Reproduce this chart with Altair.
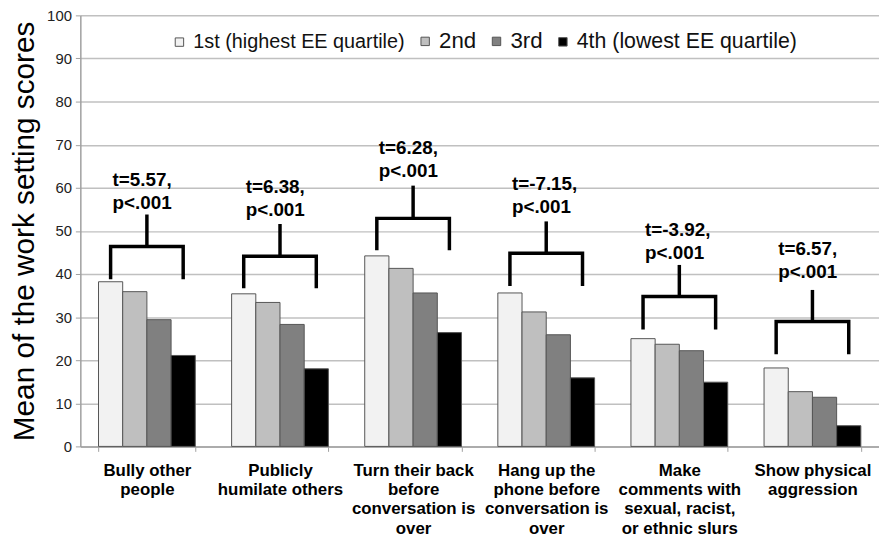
import altair as alt
import pandas as pd

categories = [
    "Bully other\npeople",
    "Publicly\nhumilate others",
    "Turn their  back\nbefore\nconversation is\nover",
    "Hang up the\nphone before\nconversation is\nover",
    "Make\ncomments with\nsexual, racist,\nor ethnic slurs",
    "Show physical\naggression",
]
series = ["1st (highest EE quartile)", "2nd", "3rd", "4th (lowest EE quartile)"]
q1 = [38.2, 35.4, 44.2, 35.6, 25.0, 18.2]
q2 = [35.9, 33.4, 41.3, 31.2, 23.7, 12.7]
q3 = [29.4, 28.3, 35.6, 25.9, 22.2, 11.4]
q4 = [21.1, 18.0, 26.4, 15.9, 14.9, 4.8]

t_labels = ["t=5.57,", "t=6.38,", "t=6.28,", "t=-7.15,", "t=-3.92,", "t=6.57,"]
p_label = "p<.001"
bracket_leg = [38.8, 36.7, 45.5, 37.2, 27.1, 21.4]
bracket_bar = [46.4, 44.1, 52.9, 44.8, 34.8, 29.0]
bracket_top = [53.8, 51.6, 60.5, 52.2, 42.1, 36.3]
label_y = [61.8, 60.1, 69.2, 60.8, 50.1, 45.7]

colors = ["#f2f2f2", "#bfbfbf", "#808080", "#000000"]

# tables
rows = []
for i, c in enumerate(categories):
    for s, vals in zip(series, [q1, q2, q3, q4]):
        rows.append({"cat": c, "series": s, "value": vals[i]})
bars_df = pd.DataFrame(rows)

brows = []
for i, c in enumerate(categories):
    brows.append({"cat": c, "series": series[0], "y": bracket_leg[i], "o": 0})
    brows.append({"cat": c, "series": series[0], "y": bracket_bar[i], "o": 1})
    brows.append({"cat": c, "series": series[3], "y": bracket_bar[i], "o": 2})
    brows.append({"cat": c, "series": series[3], "y": bracket_leg[i], "o": 3})
bracket_df = pd.DataFrame(brows)

stem_df = pd.DataFrame({"cat": categories, "y": bracket_bar, "y2": bracket_top})
text_df = pd.DataFrame({
    "cat": categories,
    "series": [series[0]] * len(categories),
    "txt": [t + "\n" + p_label for t in t_labels],
    "y": label_y,
})

x_enc = alt.X(
    "cat:N",
    sort=categories,
    scale=alt.Scale(paddingInner=0.273, paddingOuter=0.1365),
    axis=alt.Axis(
        title=None,
        labelAngle=0,
        labelExpr="split(datum.label, '\\n')",
        labelFontSize=17,
        labelFontWeight="bold",
        labelLineHeight=19.5,
        labelColor="#000000",
        labelPadding=11,
        labelLimit=0,
        tickBand="extent",
        tickSize=5,
        tickColor="#a0a0a0",
        domainColor="#a0a0a0",
        domainWidth=1.5,
        grid=False,
    ),
)
xoff = alt.XOffset("series:N", sort=series, scale=alt.Scale(paddingInner=0, paddingOuter=0))
y_scale = alt.Scale(domain=[0, 100])

bars = alt.Chart(bars_df).mark_bar(stroke="#555555", strokeWidth=1).encode(
    x=x_enc,
    xOffset=xoff,
    y=alt.Y(
        "value:Q",
        scale=y_scale,
        axis=alt.Axis(
            values=list(range(0, 101, 10)),
            grid=True,
            gridColor="#c0c0c0",
            gridWidth=1.5,
            domainColor="#a0a0a0",
            domainWidth=1.5,
            tickColor="#a0a0a0",
            tickSize=5,
            labelFontSize=15,
            labelColor="#222222",
            labelPadding=4,
            title="Mean of the work setting scores",
            titleFontSize=30,
            titleFontWeight="normal",
            titleColor="#000000",
            titleAngle=270,
            titleX=-56,
            titleY=217.5,
            titleAlign="center",
            titleBaseline="middle",
        ),
    ),
    color=alt.Color(
        "series:N",
        sort=series,
        scale=alt.Scale(domain=series, range=colors),
        legend=alt.Legend(
            title=None,
            orient="none",
            legendX=90,
            legendY=16,
            direction="horizontal",
            labelFontSize=alt.ExprRef("indexof(['2nd','3rd'], datum.label) >= 0 ? 22.5 : (datum.label == '4th (lowest EE quartile)' ? 21.5 : 20)"),
            labelColor="#111111",
            labelOffset=4,
            labelLimit=0,
            symbolType="square",
            symbolSize=72,
            symbolStrokeColor="#555555",
            symbolStrokeWidth=1,
            columnPadding=10,
        ),
    ),
)

brackets = alt.Chart(bracket_df).mark_line(
    color="black", strokeWidth=3.5, strokeJoin="miter", strokeCap="butt"
).encode(
    x=alt.X("cat:N", sort=categories),
    xOffset=xoff,
    y=alt.Y("y:Q", scale=y_scale),
    order=alt.Order("o:Q"),
    detail="cat:N",
)

stems = alt.Chart(stem_df).mark_rule(color="black", strokeWidth=3.5).encode(
    x=alt.X("cat:N", sort=categories),
    y=alt.Y("y:Q", scale=y_scale),
    y2="y2:Q",
)

texts = alt.Chart(text_df).mark_text(
    align="left", baseline="middle", dx=2, fontSize=19, fontWeight="bold",
    lineBreak="\n", lineHeight=23, color="black",
).encode(
    x=alt.X("cat:N", sort=categories),
    xOffset=xoff,
    y=alt.Y("y:Q", scale=y_scale),
    text="txt:N",
)

chart = alt.layer(bars, brackets, stems, texts).properties(
    width=806,
    height=435,
    autosize=alt.AutoSizeParams(type="none"),
    padding={"left": 73, "top": 5, "right": 0, "bottom": 90},
).configure(
    font="Liberation Sans",
).configure_view(stroke=None)

chart.save("out.html", embed_options={"renderer": "svg", "actions": False})
